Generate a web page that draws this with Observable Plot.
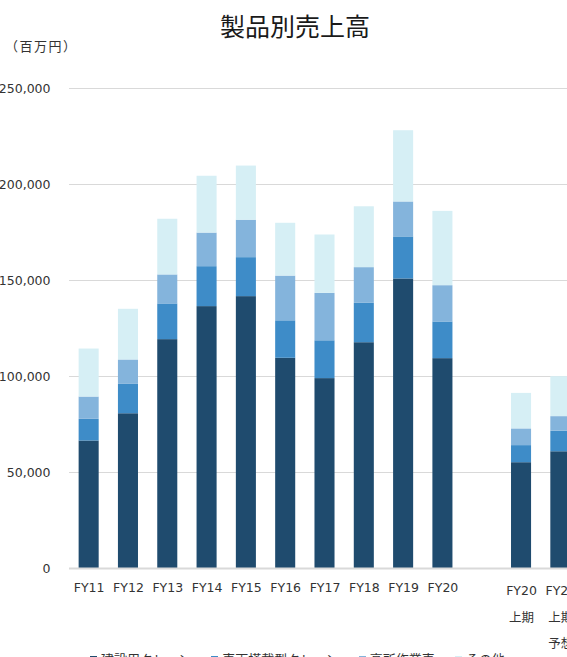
<!DOCTYPE html>
<html><head><meta charset="utf-8">
<script src="https://cdn.jsdelivr.net/npm/d3@7"></script>
<script src="https://cdn.jsdelivr.net/npm/@observablehq/plot@0.6"></script>
<style>
html,body{margin:0;padding:0;background:#fff;overflow:hidden;}
#wrap{position:relative;width:567px;height:657px;overflow:hidden;background:#fff;}
#title{position:absolute;left:0;top:10px;width:590px;text-align:center;font-family:"Noto Sans CJK JP",sans-serif;font-size:25px;line-height:30px;color:#1a1a1a;}
#unit{position:absolute;left:5px;top:37px;font-family:"Noto Sans CJK JP",sans-serif;font-size:13px;letter-spacing:1.5px;line-height:18px;color:#333;}
#chart{position:absolute;left:0;top:70px;width:590px;}
#chart svg{max-width:none !important;}
#legend{position:absolute;left:90px;top:651px;display:flex;gap:20px;font-family:"Noto Sans CJK JP",sans-serif;font-size:13px;line-height:16px;color:#333;white-space:nowrap;}
#legend .item{display:flex;align-items:center;gap:4px;}
#legend .sw{width:7px;height:7px;display:inline-block;}
</style></head><body>
<div id="wrap">
  <div id="title">製品別売上高</div>
  <div id="unit">（百万円）</div>
  <div id="chart"></div>
  <div id="legend"></div>
</div>
<script>
const categories = ["FY11","FY12","FY13","FY14","FY15","FY16","FY17","FY18","FY19","FY20"," ","FY20上期","FY21上期予想"];
const tickLabels = ["FY11","FY12","FY13","FY14","FY15","FY16","FY17","FY18","FY19","FY20","","FY20\n上期","FY21\n上期\n予想"];
const seriesNames = ["建設用クレーン","車両搭載型クレーン","高所作業車","その他"];
const seriesColors = ["#1f4b6e","#3e8cc8","#84b4dc","#d6eff5"];
const construction = [66400, 80600, 119200, 136400, 141600, 109500, 98900, 117600, 150800, 109300, null, 55100, 60800];
const truckMounted = [11300, 15300, 18600, 20800, 20300, 19500, 19700, 20500, 21900, 19100, null, 8900, 10700];
const aerialWork  = [11600, 12700, 15100, 17500, 19500, 23300, 24700, 18600, 18200, 18900, null, 8700, 7600];
const others      = [25000, 26400, 29000, 29600, 28200, 27500, 30400, 31700, 37100, 38700, null, 18500, 20800];
const yTicks = [0, 50000, 100000, 150000, 200000, 250000];

const seriesValues = [construction, truckMounted, aerialWork, others];
const rows = [];
seriesNames.forEach((s, si) => {
  categories.forEach((c, ci) => {
    const v = seriesValues[si][ci];
    if (v != null) rows.push({cat: c, series: s, value: v});
  });
});
const labelOf = new Map(categories.map((c, i) => [c, tickLabels[i]]));
const singleCats = categories.filter(c => !labelOf.get(c).includes("\n"));
const multiCats = categories.filter(c => labelOf.get(c).includes("\n"));

const chart = Plot.plot({
  width: 590,
  height: 598,
  marginLeft: 69,
  marginRight: 10,
  marginTop: 18,
  marginBottom: 100,
  style: {fontFamily: '"DejaVu Sans","Noto Sans CJK JP",sans-serif', fontSize: "12.5px", color: "#333", background: "transparent", overflow: "visible", maxWidth: "none"},
  x: {domain: categories, paddingInner: 0.49, paddingOuter: 0.245, align: 0.5, round: false},
  y: {domain: [0, 250000]},
  color: {domain: seriesNames, range: seriesColors},
  marks: [
    Plot.gridY(yTicks.filter(d => d > 0), {stroke: "#d9d9d9", strokeOpacity: 1, strokeWidth: 1}),
    Plot.barY(rows, {x: "cat", y: "value", fill: "series"}),
    Plot.ruleY([0], {stroke: "#d9d9d9", strokeWidth: 2}),
    Plot.axisY(yTicks, {tickSize: 0, tickPadding: 19, tickFormat: d3.format(","), fontSize: 12.5, label: null}),
    Plot.axisX(singleCats, {tickSize: 0, tickPadding: 15, tickFormat: c => labelOf.get(c), fontSize: 12.5, label: null}),
    Plot.axisX(multiCats, {tickSize: 0, tickPadding: 8, tickFormat: c => labelOf.get(c), fontSize: 12.5, lineHeight: 2.12, label: null})
  ]
});
chart.style.maxWidth = "none";
chart.style.width = "590px";
document.getElementById("chart").appendChild(chart);

const legend = document.getElementById("legend");
seriesNames.forEach((s, i) => {
  const item = document.createElement("div");
  item.className = "item";
  const sw = document.createElement("span");
  sw.className = "sw";
  sw.style.background = seriesColors[i];
  const t = document.createElement("span");
  t.textContent = s;
  item.appendChild(sw);
  item.appendChild(t);
  legend.appendChild(item);
});
</script>
</body></html>
